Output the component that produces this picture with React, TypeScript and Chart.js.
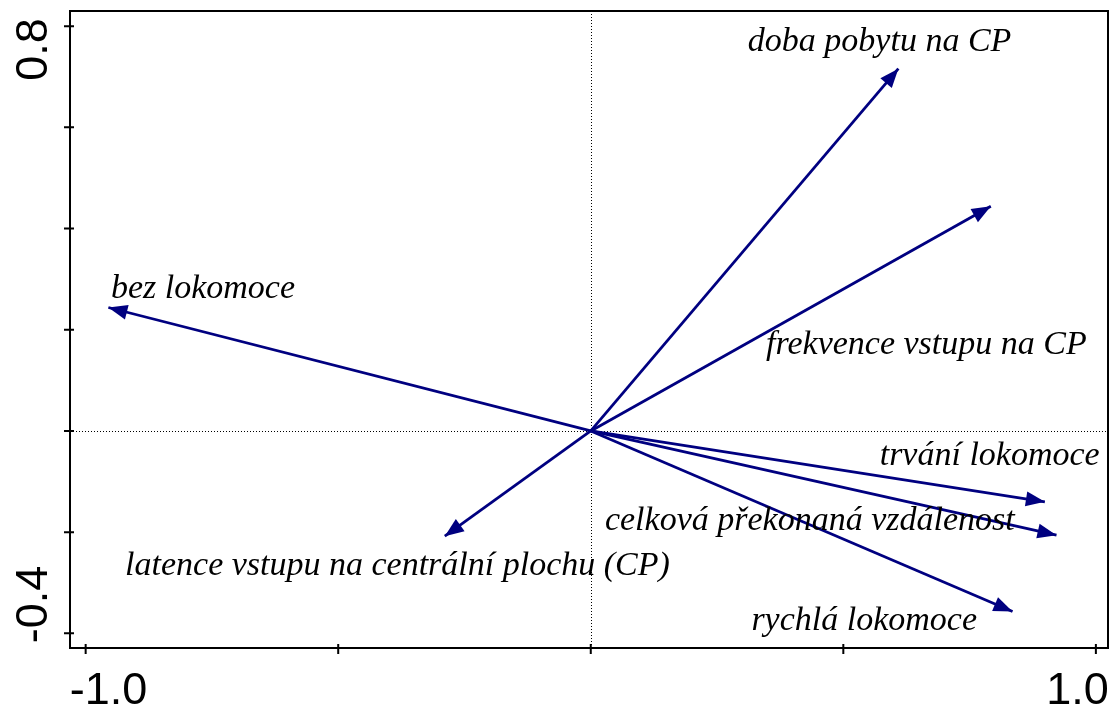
import React, { useEffect, useRef } from 'react';
import { Chart, registerables } from 'chart.js';

Chart.register(...registerables);

// ---- data ----
const variableNames = [
  'doba pobytu na CP',
  'frekvence vstupu na CP',
  'bez lokomoce',
  'latence vstupu na centrální plochu (CP)',
  'trvání lokomoce',
  'celková překonaná vzdálenost',
  'rychlá lokomoce',
];
const axis1Scores = [0.609, 0.792, -0.955, -0.289, 0.899, 0.922, 0.835];
const axis2Scores = [0.716, 0.444, 0.244, -0.208, -0.14, -0.206, -0.357];

const xTickValues = [-1, -0.5, 0, 0.5, 1];
const xTickLabels = ['-1.0', '', '', '', '1.0'];
const yTickValues = [-0.4, -0.2, 0, 0.2, 0.4, 0.6, 0.8];
const yTickLabels = ['-0.4', '', '', '', '', '', '0.8'];

// ---- label placement (data coords of text left edge / baseline) ----
const labelX = [0.311, 0.347, -0.95, -0.922, 0.572, 0.028, 0.318];
const labelY = [0.751, 0.153, 0.262, -0.284, -0.068, -0.196, -0.394];

const ARROW = '#000080';

export default function App() {
  const ref = useRef<HTMLCanvasElement>(null);

  useEffect(() => {
    document.body.style.margin = '0';
    const canvas = ref.current!;

    const plugin = {
      id: 'biplot',
      beforeDatasetsDraw(chart: any) {
        const { ctx, chartArea: a, scales } = chart;
        const x0 = scales.x.getPixelForValue(0);
        const y0 = scales.y.getPixelForValue(0);
        ctx.save();
        ctx.strokeStyle = '#000';
        ctx.lineWidth = 1;
        ctx.setLineDash([1, 2]);
        ctx.beginPath();
        ctx.moveTo(Math.round(x0) + 0.5, a.top);
        ctx.lineTo(Math.round(x0) + 0.5, a.bottom);
        ctx.moveTo(a.left, Math.round(y0) + 0.5);
        ctx.lineTo(a.right, Math.round(y0) + 0.5);
        ctx.stroke();
        ctx.restore();
      },
      afterDatasetsDraw(chart: any) {
        const { ctx, chartArea: a, scales } = chart;
        const sx = scales.x, sy = scales.y;
        const x0 = sx.getPixelForValue(0);
        const y0 = sy.getPixelForValue(0);
        ctx.save();
        // arrowheads
        ctx.fillStyle = ARROW;
        for (let i = 0; i < axis1Scores.length; i++) {
          const tx = sx.getPixelForValue(axis1Scores[i]);
          const ty = sy.getPixelForValue(axis2Scores[i]);
          const ang = Math.atan2(ty - y0, tx - x0);
          const L = 19, W = 7.5;
          const c = Math.cos(ang), s = Math.sin(ang);
          const bx = tx - L * c, by = ty - L * s;
          ctx.beginPath();
          ctx.moveTo(tx, ty);
          ctx.lineTo(bx - W * s, by + W * c);
          ctx.lineTo(bx + W * s, by - W * c);
          ctx.closePath();
          ctx.fill();
        }
        // labels
        ctx.fillStyle = '#000';
        ctx.font = 'italic 34px "Liberation Serif", "Times New Roman", serif';
        ctx.textAlign = 'left';
        ctx.textBaseline = 'alphabetic';
        for (let i = 0; i < variableNames.length; i++) {
          ctx.fillText(variableNames[i], sx.getPixelForValue(labelX[i]), sy.getPixelForValue(labelY[i]));
        }
        // frame
        ctx.strokeStyle = '#000';
        ctx.lineWidth = 2;
        ctx.strokeRect(a.left, a.top, a.right - a.left, a.bottom - a.top);
        // ticks
        ctx.lineWidth = 2;
        ctx.beginPath();
        xTickValues.forEach((v) => {
          const px = sx.getPixelForValue(v);
          ctx.moveTo(px, a.bottom - 4);
          ctx.lineTo(px, a.bottom + 6);
        });
        yTickValues.forEach((v) => {
          const py = sy.getPixelForValue(v);
          ctx.moveTo(a.left - 6, py);
          ctx.lineTo(a.left + 4, py);
        });
        ctx.stroke();
        // tick labels
        ctx.font = '45px "Liberation Sans", Arial, sans-serif';
        ctx.textBaseline = 'alphabetic';
        const nx = xTickValues.length;
        xTickValues.forEach((v, i) => {
          const lab = xTickLabels[i];
          if (!lab) return;
          const px = sx.getPixelForValue(v);
          if (i === 0) {
            ctx.textAlign = 'left';
            ctx.fillText(lab, px - 16, a.bottom + 56);
          } else if (i === nx - 1) {
            ctx.textAlign = 'right';
            ctx.fillText(lab, px + 13, a.bottom + 56);
          } else {
            ctx.textAlign = 'center';
            ctx.fillText(lab, px, a.bottom + 56);
          }
        });
        const ny = yTickValues.length;
        yTickValues.forEach((v, i) => {
          const lab = yTickLabels[i];
          if (!lab) return;
          const py = sy.getPixelForValue(v);
          ctx.save();
          ctx.translate(a.left - 23, py);
          ctx.rotate(-Math.PI / 2);
          if (i === 0) {
            ctx.textAlign = 'left';
            ctx.fillText(lab, -10, 0);
          } else if (i === ny - 1) {
            ctx.textAlign = 'right';
            ctx.fillText(lab, 8, 0);
          } else {
            ctx.textAlign = 'center';
            ctx.fillText(lab, 0, 0);
          }
          ctx.restore();
        });
        ctx.restore();
      },
    };

    const datasets = variableNames.map((name, i) => ({
      label: name,
      data: [
        { x: 0, y: 0 },
        { x: axis1Scores[i], y: axis2Scores[i] },
      ],
      showLine: true,
      borderColor: ARROW,
      backgroundColor: ARROW,
      borderWidth: 2.8,
      pointRadius: 0,
      pointHoverRadius: 0,
    }));

    const chart = new Chart(canvas, {
      type: 'scatter',
      data: { datasets },
      options: {
        animation: false,
        responsive: false,
        layout: { padding: { left: 70, top: 11, right: 8, bottom: 60 } },
        scales: {
          x: { type: 'linear', min: -1.031, max: 1.024, display: false },
          y: { type: 'linear', min: -0.429, max: 0.83, display: false },
        },
        plugins: { legend: { display: false }, tooltip: { enabled: false } },
      },
      plugins: [plugin],
    });
    return () => chart.destroy();
  }, []);

  return (
    <div style={{ width: 1116, height: 708, background: '#fff' }}>
      <canvas ref={ref} width={1116} height={708} style={{ display: 'block' }} />
    </div>
  );
}
